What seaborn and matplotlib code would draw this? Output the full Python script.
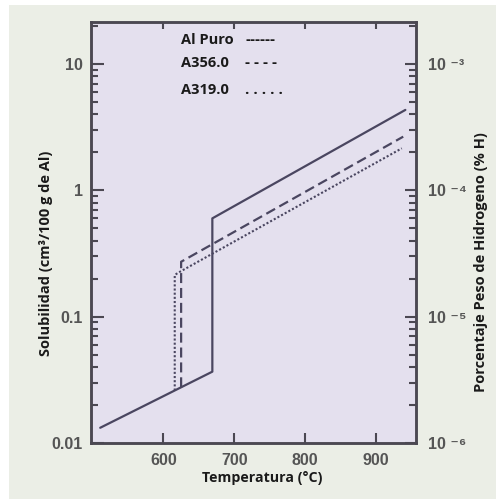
import numpy as np
import pandas as pd
import matplotlib
matplotlib.use("Agg")
import matplotlib.pyplot as plt
import seaborn as sns
from matplotlib.ticker import LogLocator, FixedLocator, NullFormatter

# data (temperature in C, solubility in cm3/100 g Al)
al_temp = [511, 669, 669, 941]
al_sol = [0.0132, 0.0367, 0.60, 4.33]

a356_temp = [625, 625, 938]
a356_sol = [0.0276, 0.272, 2.66]

a319_temp = [616, 616, 623.5, 936]
a319_sol = [0.026, 0.214, 0.227, 2.15]

x_ticks = [600, 700, 800, 900]
y_ticks = [0.01, 0.1, 1, 10]
y_tick_labels = ["0.01", "0.1", "1", "10"]
h_ticks = [1e-6, 1e-5, 1e-4, 1e-3]
h_tick_labels = ["10 \u207b\u2076", "10 \u207b\u2075", "10 \u207b\u2074", "10 \u207b\u00b3"]

legend_names = ["Al Puro", "A356.0", "A319.0"]
legend_marks = ["------", "- - - -", ". . . . ."]

sns.set_style("ticks")
plt.rcParams['font.family'] = ['Open Sans', 'DejaVu Sans']

line_col = "#4a4660"
spine_col = "#4b4852"
tick_col = "#555555"
text_col = "#1a1a1a"

fig = plt.figure(figsize=(4.96, 4.99), dpi=100, facecolor="white")
# greenish paper with white strip on top/left
fig.patches.append(plt.Rectangle((9 / 496, 0), 1, 1 - 5 / 499, transform=fig.transFigure,
                                 facecolor="#ebeee6", edgecolor="none", zorder=-10))
ax = fig.add_axes([91 / 496, 1 - 443 / 499, 325 / 496, 421 / 499])
ax.set_facecolor("#e4e0ee")

df_al = pd.DataFrame({"T": al_temp, "S": al_sol})
df_356 = pd.DataFrame({"T": a356_temp, "S": a356_sol})
df_319 = pd.DataFrame({"T": a319_temp, "S": a319_sol})

sns.lineplot(data=df_al, x="T", y="S", sort=False, estimator=None, ax=ax,
             color=line_col, lw=1.6)
sns.lineplot(data=df_356, x="T", y="S", sort=False, estimator=None, ax=ax,
             color=line_col, lw=1.6, linestyle=(0, (4.5, 2.2)))
sns.lineplot(data=df_319, x="T", y="S", sort=False, estimator=None, ax=ax,
             color=line_col, lw=1.5, linestyle=(0, (1, 1.0)))

ax.set_yscale("log")
ax.set_xlim(498, 956)
ax.set_ylim(0.01, 21.5)

ax.xaxis.set_major_locator(FixedLocator(x_ticks))
ax.set_xticklabels([str(t) for t in x_ticks])
ax.yaxis.set_major_locator(FixedLocator(y_ticks))
ax.set_yticklabels(y_tick_labels)
ax.yaxis.set_minor_locator(LogLocator(base=10, subs=np.arange(2, 10)))
ax.yaxis.set_minor_formatter(NullFormatter())

for lab in ax.get_xticklabels() + ax.get_yticklabels():
    lab.set_fontfamily(['Liberation Sans', 'DejaVu Sans'])
    lab.set_fontweight("bold")
    lab.set_color(tick_col)
    lab.set_fontsize(11.5)

ax.tick_params(axis="x", direction="in", length=7, width=1.5, color=spine_col, pad=7)
ax.tick_params(axis="y", which="major", direction="in", length=9, width=1.5, color=spine_col, pad=6)
ax.tick_params(axis="y", which="minor", direction="in", length=5, width=1.5, color=spine_col)

for s in ax.spines.values():
    s.set_color(spine_col)
    s.set_linewidth(1.8)

top = ax.secondary_xaxis("top")
top.xaxis.set_major_locator(FixedLocator(x_ticks))
top.tick_params(direction="in", length=5, width=1.5, color=spine_col, labeltop=False)
top.spines["top"].set_visible(False)

ax2 = ax.twinx()
ax2.set_yscale("log")
ax2.set_ylim(0.01e-4, 21.5e-4)
ax2.yaxis.set_major_locator(FixedLocator(h_ticks))
ax2.set_yticklabels(h_tick_labels)
ax2.yaxis.set_minor_locator(LogLocator(base=10, subs=np.arange(2, 10)))
ax2.yaxis.set_minor_formatter(NullFormatter())
ax2.tick_params(axis="y", which="major", direction="in", length=8, width=1.5, color=spine_col, pad=9)
ax2.tick_params(axis="y", which="minor", direction="in", length=5, width=1.5, color=spine_col)
for lab in ax2.get_yticklabels():
    lab.set_fontfamily(['Liberation Sans', 'DejaVu Sans'])
    lab.set_fontweight("bold")
    lab.set_color(tick_col)
    lab.set_fontsize(11.5)
for s in ax2.spines.values():
    s.set_color(spine_col)
    s.set_linewidth(1.8)

ax.set_xlabel("Temperatura (°C)", fontsize=10.2, fontweight="bold", color=text_col)
ax.set_ylabel("Solubilidad (cm³/100 g de Al)", fontsize=10.5, fontweight="bold", color=text_col)
ax2.set_ylabel("Porcentaje Peso de Hidrogeno (% H)", fontsize=10.5, fontweight="bold", color=text_col)
ax.xaxis.set_label_coords(0.526, -0.066)
ax.yaxis.set_label_coords(-0.118, 0.451)
ax2.yaxis.set_label_coords(1.18, 0.43)

# legend written as text, like the original
leg_y = [0.957, 0.903, 0.838]
for name, mark, yy in zip(legend_names, legend_marks, leg_y):
    ax.text(0.277, yy, name, transform=ax.transAxes, fontsize=10.5, fontweight="bold",
            color=text_col, va="center", ha="left")
    ax.text(0.474, yy, mark, transform=ax.transAxes, fontsize=11, fontweight="bold",
            color=text_col, va="center", ha="left")

fig.savefig("out.png", dpi=100, facecolor=fig.get_facecolor())
